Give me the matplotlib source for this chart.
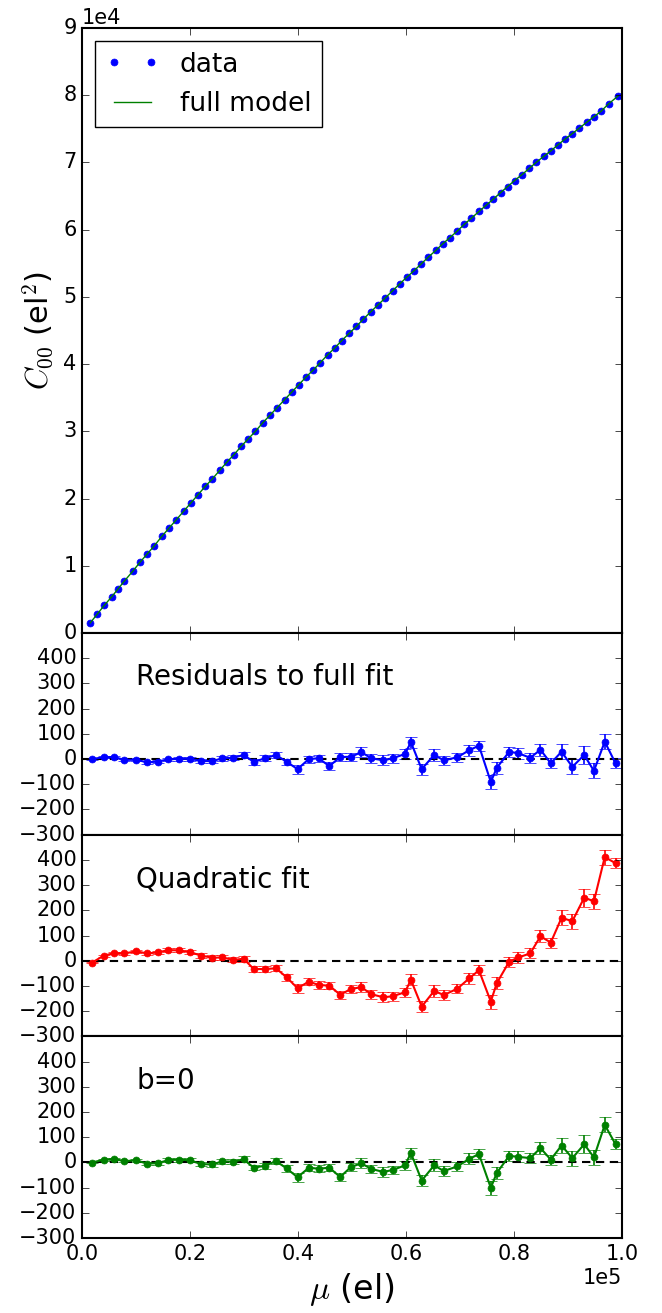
import numpy as np
import matplotlib
matplotlib.use("Agg")
import matplotlib.pyplot as plt

# mean signal (el) and covariance C00 (el^2) of the flat pairs
mu_data = [0.015, 0.028, 0.041, 0.055, 0.067, 0.078, 0.094, 0.107, 0.121, 0.133,
           0.148, 0.161, 0.174, 0.188, 0.201, 0.215, 0.228, 0.241, 0.255, 0.268,
           0.281, 0.295, 0.308, 0.321, 0.335, 0.348, 0.361, 0.375, 0.388, 0.401,
           0.415, 0.428, 0.441, 0.455, 0.468, 0.481, 0.495, 0.508, 0.521, 0.535,
           0.548, 0.561, 0.575, 0.588, 0.601, 0.615, 0.628, 0.641, 0.655, 0.668,
           0.681, 0.695, 0.708, 0.721, 0.735, 0.748, 0.761, 0.775, 0.788, 0.801,
           0.815, 0.828, 0.841, 0.855, 0.868, 0.881, 0.895, 0.908, 0.921, 0.935,
           0.948, 0.961, 0.975, 0.993]
c00_data = [0.15, 0.28, 0.41, 0.54, 0.66, 0.77, 0.92, 1.05, 1.18, 1.29,
            1.44, 1.56, 1.68, 1.81, 1.93, 2.06, 2.18, 2.29, 2.42, 2.54,
            2.65, 2.78, 2.89, 3.00, 3.13, 3.24, 3.35, 3.47, 3.58, 3.69,
            3.81, 3.91, 4.02, 4.14, 4.24, 4.35, 4.46, 4.56, 4.67, 4.78,
            4.88, 4.98, 5.09, 5.19, 5.29, 5.39, 5.49, 5.59, 5.69, 5.79,
            5.88, 5.98, 6.08, 6.17, 6.27, 6.36, 6.45, 6.55, 6.64, 6.73,
            6.82, 6.91, 7.00, 7.09, 7.17, 7.26, 7.35, 7.43, 7.51, 7.60,
            7.68, 7.76, 7.87, 7.99]

# binned residuals
mu_res = [0.018, 0.040, 0.059, 0.078, 0.100, 0.121, 0.140, 0.160, 0.180, 0.200,
          0.221, 0.241, 0.260, 0.280, 0.299, 0.318, 0.339, 0.359, 0.379, 0.399,
          0.420, 0.438, 0.458, 0.478, 0.498, 0.517, 0.536, 0.558, 0.575, 0.598,
          0.609, 0.629, 0.652, 0.670, 0.695, 0.717, 0.735, 0.757, 0.768, 0.791,
          0.808, 0.830, 0.849, 0.868, 0.888, 0.908, 0.930, 0.948, 0.968, 0.988]
res_full = [0, 7, 8, -3, -3, -13, -10, -1, 1, 1,
            -8, -8, 3, 5, 16, -11, 3, 16, -11, -40,
            0, 3, -28, 8, 9, 27, 3, -5, 3, 20,
            67, -40, 16, -5, 7, 35, 53, -91, -35, 29,
            23, 5, 37, -17, 29, -31, 16, -47, 69, -17]
res_quad = [-8, 20, 30, 29, 37, 29, 33, 42, 41, 34,
            20, 12, 13, 3, 8, -33, -33, -30, -66, -109,
            -83, -96, -99, -135, -112, -105, -133, -145, -141, -125,
            -76, -182, -120, -136, -111, -70, -38, -162, -89, -4,
            13, 29, 97, 72, 170, 157, 250, 236, 411, 387]
res_b0 = [-1, 11, 14, 5, 8, -5, -3, 9, 11, 8,
          -7, -8, 4, 3, 12, -21, -13, 5, -24, -59,
          -21, -25, -21, -58, -18, -4, -26, -38, -30, -12,
          37, -72, -12, -34, -16, 14, 33, -101, -42, 26,
          22, 17, 57, 11, 67, 17, 72, 20, 149, 72]
res_err = [3, 4, 5, 5, 6, 6, 7, 7, 8, 8,
           9, 9, 10, 10, 12, 11, 12, 12, 13, 18,
           14, 15, 15, 16, 16, 20, 17, 20, 17, 18,
           22, 22, 24, 18, 18, 22, 20, 28, 25, 20,
           22, 20, 24, 20, 30, 30, 35, 30, 30, 20]

plt.style.use("classic")
plt.rcParams["font.family"] = ["DejaVu Sans"]
plt.rcParams["font.size"] = 15
plt.rcParams["axes.linewidth"] = 1.5
plt.rcParams["xtick.major.size"] = 5
plt.rcParams["ytick.major.size"] = 5

mu_data = np.array(mu_data) * 1e5
c00_data = np.array(c00_data) * 1e4
mu_res = np.array(mu_res) * 1e5

fig = plt.figure(figsize=(6.62, 13.13), dpi=100, facecolor="white")
left, width = 0.124, 0.8156
bottom, unit = 0.0571, 0.1536
ax1 = fig.add_axes([left, bottom + 3 * unit, width, 3 * unit])
ax2 = fig.add_axes([left, bottom + 2 * unit, width, unit], sharex=ax1)
ax3 = fig.add_axes([left, bottom + unit, width, unit], sharex=ax1)
ax4 = fig.add_axes([left, bottom, width, unit], sharex=ax1)

ax1.plot(mu_data, c00_data, "o", color="b", markeredgecolor="b",
         markersize=5, label="data")
ax1.plot(mu_data, c00_data, "-", color="g", linewidth=1.0, label="full model")
ax1.set_xlim(0, 1e5)
ax1.set_ylim(0, 9e4)
ax1.set_yticks(np.arange(0, 9.5e4, 1e4))
ax1.ticklabel_format(axis="y", style="sci", scilimits=(0, 0))
ax1.set_ylabel(r"$C_{00}$ (el$^2$)", fontsize=22)
ax1.legend(loc="upper left", numpoints=2, fontsize=19)
plt.setp(ax1.get_xticklabels(), visible=False)

panels = [(ax2, res_full, "b", "Residuals to full fit"),
          (ax3, res_quad, "r", "Quadratic fit"),
          (ax4, res_b0, "g", "b=0")]
for ax, res, col, title in panels:
    ax.errorbar(mu_res, res, yerr=res_err, fmt="-o", color=col,
                markeredgecolor=col, markersize=5, linewidth=1.5,
                capsize=4.5, elinewidth=1.2)
    ax.axhline(0, color="k", linestyle="--", linewidth=1.5, dashes=(6, 4))
    ax.set_ylim(-300, 500)
    ax.set_yticks(np.arange(-300, 500, 100))
    ax.text(0.1, 0.78, title, transform=ax.transAxes, fontsize=20,
            va="center", ha="left")
    if ax is not ax4:
        plt.setp(ax.get_xticklabels(), visible=False)

ax4.set_xticks(np.arange(0, 1.01e5, 0.2e5))
ax4.ticklabel_format(axis="x", style="sci", scilimits=(0, 0))
ax4.set_xlabel(r"$\mu$ (el)", fontsize=24)

fig.savefig("out.png", dpi=100, facecolor="white")
